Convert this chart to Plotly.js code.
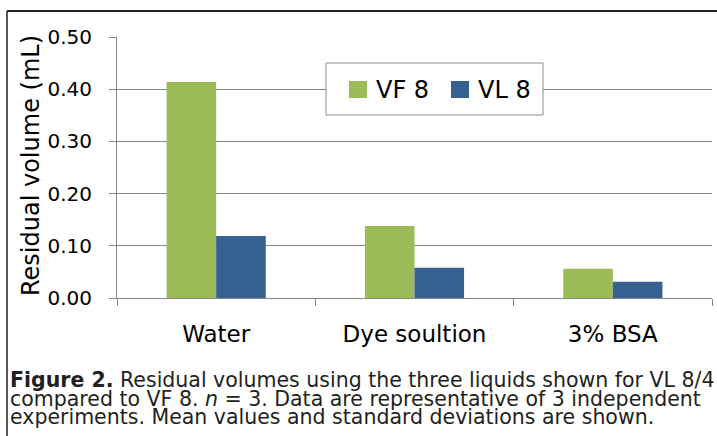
<!DOCTYPE html>
<html>
<head>
<meta charset="utf-8">
<script src="https://cdn.plot.ly/plotly-3.0.1.min.js"></script>
<style>html,body{margin:0;padding:0;background:#fff;}#chart{width:717px;height:436px;}</style>
</head>
<body>
<div id="chart"></div>
<script>
var categories = ["Water", "Dye soultion", "3% BSA"];
var seriesNames = ["VF 8", "VL 8"];
var vf8 = [0.414, 0.138, 0.056];
var vl8 = [0.119, 0.058, 0.031];
var yTicks = [0, 0.1, 0.2, 0.3, 0.4, 0.5];
var yTitle = "Residual volume (mL)";
var captionLines = [
  "<b>Figure 2.</b> Residual volumes using the three liquids shown for VL 8/4",
  "compared to VF 8. <i>n</i> = 3. Data are representative of 3 independent",
  "experiments. Mean values and standard deviations are shown."
];
var seriesColors = ["#9BBB59", "#36608F"];

// plot area in pixels
var L = 117, R = 5, T = 37, B = 138, W = 717, H = 436;
var pw = W - L - R, ph = H - T - B;
function px(x) { return (x - L) / pw; }
function py(y) { return (H - B - y) / ph; }

var fam = "'DejaVu Sans', sans-serif";
var capFont = {family: "'DejaVu Sans', sans-serif", size: 20.5, color: "#231F20"};

var traces = [
  {type: "bar", name: seriesNames[0], x: categories, y: vf8, marker: {color: seriesColors[0]}, showlegend: false},
  {type: "bar", name: seriesNames[1], x: categories, y: vl8, marker: {color: seriesColors[1]}, showlegend: false}
];

var captionY = [380, 398.5, 417];
var annotations = captionLines.map(function (t, i) {
  return {text: t, xref: "paper", yref: "paper", x: px(9), y: py(captionY[i]),
          xanchor: "left", yanchor: "middle", showarrow: false, font: capFont, borderpad: 0};
});
annotations.push({text: yTitle, xref: "paper", yref: "paper", x: px(31), y: py(165),
  xanchor: "center", yanchor: "middle", textangle: -90, showarrow: false,
  font: {family: fam, size: 24, color: "#000"}});

// custom legend (box, swatches, labels)
var shapes = [
  {type: "rect", xref: "paper", yref: "paper", x0: px(326), x1: px(543), y0: py(63), y1: py(115),
   fillcolor: "#fff", line: {color: "#8c8c8c", width: 1}, layer: "above"},
  {type: "line", xref: "paper", yref: "paper", x0: px(7), x1: px(720), y0: py(11), y1: py(11),
   line: {color: "#222", width: 2}},
  {type: "line", xref: "paper", yref: "paper", x0: px(7), x1: px(7), y0: py(11), y1: py(440),
   line: {color: "#222", width: 1.5}}
];
var swatchX = [349, 451], textX = [374, 476];
seriesNames.forEach(function (n, i) {
  shapes.push({type: "rect", xref: "paper", yref: "paper", x0: px(swatchX[i]), x1: px(swatchX[i] + 18),
    y0: py(81), y1: py(98), fillcolor: seriesColors[i], line: {width: 0}, layer: "above"});
  annotations.push({text: n, xref: "paper", yref: "paper", x: px(textX[i]), y: py(89.5),
    xanchor: "left", yanchor: "middle", showarrow: false,
    font: {family: fam, size: 24, color: "#000"}});
});

var layout = {
  width: W, height: H,
  margin: {l: L, r: R, t: T, b: B, pad: 0},
  paper_bgcolor: "#fff", plot_bgcolor: "#fff",
  barmode: "group", bargap: 0.5, bargroupgap: 0,
  showlegend: false,
  xaxis: {type: "category", showgrid: false, showline: true, linecolor: "#868686", linewidth: 1,
          ticks: "outside", tickson: "boundaries", ticklen: 7, tickcolor: "#868686",
          tickfont: {family: fam, size: 23, color: "#000"}, ticklabelstandoff: 15,
          zeroline: false, fixedrange: true},
  yaxis: {range: [0, 0.5], tickvals: yTicks, tickformat: ".2f", showgrid: true, gridcolor: "#868686",
          gridwidth: 1, showline: true, linecolor: "#868686", linewidth: 1, ticks: "outside",
          ticklen: 7, tickcolor: "#868686", tickfont: {family: fam, size: 20, color: "#000"},
          ticklabelstandoff: 13, zeroline: false, fixedrange: true},
  shapes: shapes,
  annotations: annotations
};

Plotly.newPlot("chart", traces, layout, {displayModeBar: false, staticPlot: true});
</script>
</body>
</html>
